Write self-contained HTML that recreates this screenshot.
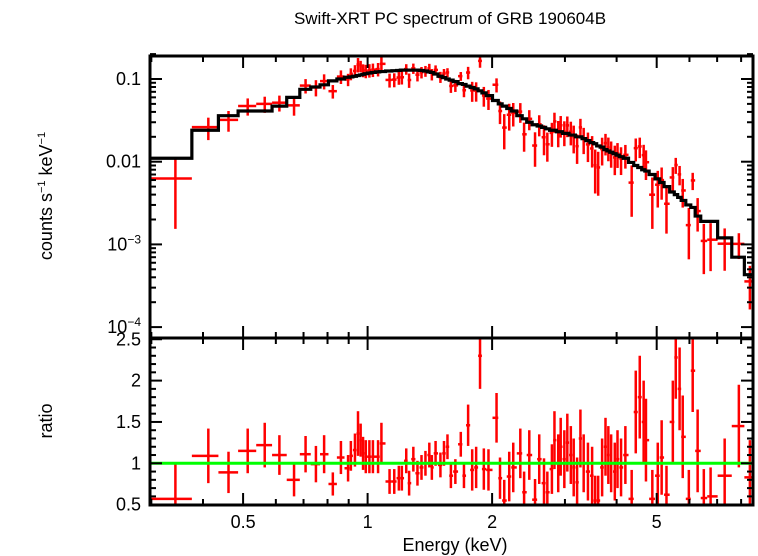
<!DOCTYPE html>
<html><head><meta charset="utf-8"><style>
html,body{margin:0;padding:0;background:#fff;}
svg{display:block;font-family:"Liberation Sans",sans-serif;}
</style></head><body>
<svg id="chart" width="758" height="556" viewBox="0 0 758 556" xmlns="http://www.w3.org/2000/svg">
<text x="450" y="24" font-size="17" text-anchor="middle">Swift-XRT PC spectrum of GRB 190604B</text>
<text transform="translate(52,196) rotate(-90)" font-size="18" text-anchor="middle">counts s<tspan font-size="11" dy="-7">−1</tspan><tspan dy="7"> keV</tspan><tspan font-size="11" dy="-7">−1</tspan></text>
<text transform="translate(52,421) rotate(-90)" font-size="18" text-anchor="middle">ratio</text>
<text x="455" y="551" font-size="18" text-anchor="middle">Energy (keV)</text>
<g id="marks"></g>
<g id="axes"></g>
</svg>
<script>
const energy=[0.343,0.412,0.461,0.513,0.564,0.612,0.664,0.708,0.750,0.785,0.824,0.862,0.897,0.911,0.932,0.948,0.962,0.975,0.99,1.01,1.03,1.06,1.08,
1.13,1.16,1.19,1.21,1.24,1.26,1.29,1.32,1.35,1.38,1.41,1.43,1.46,1.50,1.53,1.56,1.59,1.63,1.68,1.71,1.75,1.79,1.83,1.87,1.91,1.96,2.05,2.09,2.14,2.20,2.25,2.34,2.39,2.46,2.54,2.60,2.67,2.72,2.79,2.83,2.89,2.93,2.99,3.04,3.10,3.15,3.21,3.27,3.33,3.41,3.49,3.55,3.61,3.69,3.76,3.82,3.88,3.96,4.02,4.10,4.20,4.35,4.45,4.55,4.65,4.71,4.88,5.03,5.14,5.28,5.47,5.56,5.68,5.78,5.98,6.11,6.28,6.50,6.75,7.30,7.90,8.40];
const ratio=[0.57,1.09,0.89,1.15,1.22,1.1,0.8,1.11,0.99,1.11,0.75,1.07,0.94,1.09,1.16,1.36,1.28,1.12,1.08,1.08,1.08,1.08,1.24,
0.78,0.78,0.82,0.82,1.03,0.76,1.05,0.88,0.95,1.0,1.1,0.95,1.12,0.98,1.12,1.2,0.85,0.9,1.23,0.85,1.46,0.92,0.95,2.3,0.93,0.92,1.55,0.82,0.55,0.84,0.95,1.12,0.65,1.1,0.56,1.05,0.76,0.65,0.93,1.28,1.0,1.2,1.05,1.25,1.1,0.95,0.77,1.3,1.0,0.9,0.85,0.55,0.55,0.95,1.2,1.1,1.0,0.9,1.05,0.95,1.1,0.57,1.62,1.8,1.5,1.28,0.57,0.85,1.07,0.62,1.5,2.28,1.9,1.32,0.57,2.12,1.15,0.58,0.6,0.85,1.45,0.83];
const ratioErr=[0.43,0.33,0.25,0.27,0.27,0.24,0.2,0.22,0.22,0.23,0.14,0.2,0.16,0.18,0.2,0.27,0.2,0.2,0.2,0.2,0.2,0.2,0.25,
0.15,0.15,0.15,0.15,0.15,0.15,0.15,0.15,0.15,0.15,0.15,0.15,0.15,0.15,0.15,0.15,0.15,0.15,0.15,0.15,0.25,0.25,0.25,0.4,0.25,0.25,0.3,0.25,0.25,0.3,0.3,0.3,0.25,0.3,0.25,0.3,0.3,0.25,0.3,0.35,0.35,0.35,0.35,0.35,0.35,0.35,0.3,0.35,0.35,0.35,0.35,0.3,0.3,0.35,0.35,0.35,0.35,0.35,0.35,0.35,0.35,0.35,0.5,0.5,0.5,0.5,0.35,0.4,0.45,0.35,0.5,0.5,0.5,0.5,0.35,0.5,0.5,0.35,0.35,0.45,0.5,0.45];
const model=[0.011,0.024,0.036,0.041,0.041,0.047,0.06,0.075,0.08,0.085,0.095,0.1,0.105,0.106,0.108,0.11,0.112,0.114,0.116,0.118,0.12,0.122,0.123,
0.125,0.126,0.127,0.128,0.128,0.128,0.128,0.128,0.127,0.125,0.122,0.12,0.115,0.108,0.104,0.1,0.097,0.093,0.088,0.086,0.082,0.079,0.076,0.072,0.068,0.063,0.055,0.05,0.047,0.044,0.041,0.036,0.033,0.03,0.028,0.027,0.026,0.025,0.024,0.024,0.023,0.023,0.022,0.022,0.021,0.021,0.02,0.02,0.019,0.018,0.017,0.0165,0.0155,0.015,0.014,0.0135,0.013,0.0125,0.012,0.0115,0.011,0.0098,0.009,0.0085,0.008,0.0077,0.007,0.0062,0.0056,0.005,0.0043,0.004,0.0037,0.0034,0.003,0.0028,0.0022,0.0019,0.0019,0.0012,0.0007,0.00043];
const energyMin=0.298, energyMax=8.6;
const xTickMajor=[0.5,1,2,5];
const xTickLabels=["0.5","1","2","5"];
const xTickMinor=[0.3,0.4,0.6,0.7,0.8,0.9,3,4,6,7,8];
const yTickMajor=[0.1,0.01,0.001,0.0001];
const ratioTicks=[0.5,1,1.5,2,2.5];
const ratioTickLabels=["0.5","1","1.5","2","2.5"];

const L=150,R=753,T=56,M=338,B=505;
const xS=e=>367.6+413.6*Math.log10(e);
const yS=f=>79-82.7*(Math.log10(f)+1);
const rS=r=>463.3-(r-1)*82.7;
const NS="http://www.w3.org/2000/svg";
const marks=document.getElementById('marks'), axes=document.getElementById('axes');
function ln(g,x1,y1,x2,y2,c,w){const l=document.createElementNS(NS,'line');l.setAttribute('x1',x1);l.setAttribute('y1',y1);l.setAttribute('x2',x2);l.setAttribute('y2',y2);l.setAttribute('stroke',c);l.setAttribute('stroke-width',w);g.appendChild(l);return l;}
const lo=[],hi=[];
for(let i=0;i<energy.length;i++){
  lo.push(i===0?energyMin:Math.sqrt(energy[i-1]*energy[i]));
  hi.push(i===energy.length-1?energyMax:Math.sqrt(energy[i]*energy[i+1]));
}
const defs=document.createElementNS(NS,'defs');
defs.innerHTML='<clipPath id="ct"><rect x="150" y="56" width="603" height="282"/></clipPath><clipPath id="cb"><rect x="150" y="338" width="603" height="167"/></clipPath>';
marks.appendChild(defs);
const gTop=document.createElementNS(NS,'g');gTop.setAttribute('clip-path','url(#ct)');


marks.appendChild(gTop);
const gBot=document.createElementNS(NS,'g');gBot.setAttribute('clip-path','url(#cb)');


marks.appendChild(gBot);
for(let i=0;i<energy.length;i++){
  const x=xS(energy[i]),x1=xS(lo[i]),x2=xS(hi[i]);
  const f=model[i]*ratio[i], fl=Math.max(model[i]*(ratio[i]-ratioErr[i]),1e-6), fh=model[i]*(ratio[i]+ratioErr[i]);
  const g=document.createElementNS(NS,'g');
  
  
  ln(g,x1,yS(f),x2,yS(f),'#ff0000',2.5);
  ln(g,x,yS(fh),x,yS(fl),'#ff0000',2.5);
  gTop.appendChild(g);
  const g2=document.createElementNS(NS,'g');
  
  
  ln(g2,x1,rS(ratio[i]),x2,rS(ratio[i]),'#ff0000',2.5);
  ln(g2,x,rS(ratio[i]+ratioErr[i]),x,rS(ratio[i]-ratioErr[i]),'#ff0000',2.5);
  gBot.appendChild(g2);
}
let d='';
for(let i=0;i<energy.length;i++){
  const y=yS(model[i]);
  d+=(i===0?'M':'L')+xS(lo[i])+','+y+'L'+xS(hi[i])+','+y;
}
const mp=document.createElementNS(NS,'path');
mp.setAttribute('d',d);mp.setAttribute('fill','none');mp.setAttribute('stroke','#000');mp.setAttribute('stroke-width','3.2');


gTop.appendChild(mp);
const ul=ln(gBot,L,rS(1),R,rS(1),'#00ff00',3);


const fr=document.createElementNS(NS,'rect');
fr.setAttribute('x',L);fr.setAttribute('y',T);fr.setAttribute('width',R-L);fr.setAttribute('height',B-T);
fr.setAttribute('fill','none');fr.setAttribute('stroke','#000');fr.setAttribute('stroke-width','3');


axes.appendChild(fr);
const dv=ln(axes,L,M,R,M,'#000',3);


function xt(e,len){const x=xS(e);[T,M].forEach(y=>ln(axes,x,y,x,y+len,'#000',2));[M,B].forEach(y=>ln(axes,x,y,x,y-len,'#000',2));}
xTickMajor.forEach(e=>xt(e,12));
xTickMinor.forEach(e=>xt(e,6));
xTickMajor.forEach((e,i)=>{const t=document.createElementNS(NS,'text');t.setAttribute('x',xS(e));t.setAttribute('y',528);t.setAttribute('font-size','18');t.setAttribute('text-anchor','middle');t.textContent=xTickLabels[i];


axes.appendChild(t);});
for(let dec=-4;dec<=-1;dec++){for(let m=1;m<10;m++){const v=m*Math.pow(10,dec);const y=yS(v);if(y<T||y>M)continue;const len=m===1?12:6;ln(axes,L,y,L+len,y,'#000',2);ln(axes,R,y,R-len,y,'#000',2);}}
ln(axes,L,yS(0.2),L+6,yS(0.2),'#000',2);ln(axes,R,yS(0.2),R-6,yS(0.2),'#000',2);
const yLab=[["0.1",null],["0.01",null],["10","−3"],["10","−4"]];
yTickMajor.forEach((v,i)=>{const t=document.createElementNS(NS,'text');t.setAttribute('x',141);t.setAttribute('y',yS(v)+6);t.setAttribute('font-size','18');t.setAttribute('text-anchor','end');
  if(yLab[i][1]){t.innerHTML=yLab[i][0]+'<tspan font-size="12" dy="-7">'+yLab[i][1]+'</tspan>';}else t.textContent=yLab[i][0];
  
  
  axes.appendChild(t);});
for(let r=0.5;r<=2.501;r+=0.1){const y=rS(r);const maj=Math.abs(r*2-Math.round(r*2))<0.01;const len=maj?12:6;ln(axes,L,y,L+len,y,'#000',2);ln(axes,R,y,R-len,y,'#000',2);}
ratioTicks.forEach((r,i)=>{const t=document.createElementNS(NS,'text');t.setAttribute('x',141);t.setAttribute('y',rS(r)+6);t.setAttribute('font-size','18');t.setAttribute('text-anchor','end');t.textContent=ratioTickLabels[i];


axes.appendChild(t);});
</script>
</body></html>
